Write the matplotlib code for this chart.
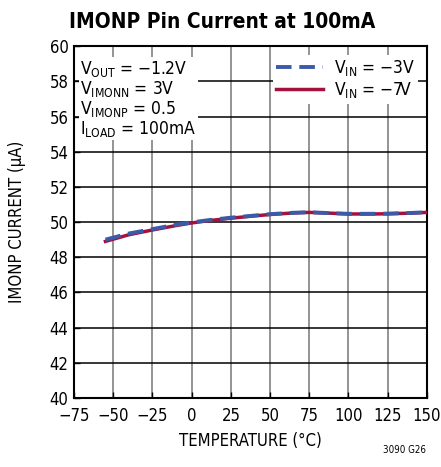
import matplotlib
matplotlib.use("Agg")
import matplotlib.pyplot as plt

plt.rcParams['font.family'] = ['DejaVu Sans']
plt.rcParams['font.stretch'] = 'condensed'
plt.rcParams['mathtext.fontset'] = 'custom'
plt.rcParams['mathtext.rm'] = 'DejaVu Sans:stretch=condensed'
plt.rcParams['mathtext.it'] = 'DejaVu Sans:stretch=condensed'
plt.rcParams['mathtext.default'] = 'regular'

# data
temp = [-55, -40, -25, -10, 0, 10, 25, 40, 50, 65, 75, 90, 100, 115, 125, 140, 150]
vin3 = [49.0, 49.35, 49.6, 49.85, 49.98, 50.1, 50.25, 50.37, 50.45, 50.53, 50.56, 50.5, 50.47, 50.47, 50.48, 50.52, 50.56]
vin7 = [48.9, 49.28, 49.55, 49.8, 49.95, 50.07, 50.22, 50.35, 50.43, 50.52, 50.55, 50.5, 50.46, 50.46, 50.47, 50.51, 50.55]

xticks = [-75, -50, -25, 0, 25, 50, 75, 100, 125, 150]
yticks = [40, 42, 44, 46, 48, 50, 52, 54, 56, 58, 60]

fig = plt.figure(figsize=(4.41, 4.67), dpi=100)
ax = fig.add_axes([0.168, 0.148, 0.8, 0.753])

ax.plot(temp, vin3, "--", c="#3b5ba8", linewidth=2.8, dashes=(4, 2), label="V$_{IN}$ = \u22123V", zorder=4)
ax.plot(temp, vin7, "-", c="#a3123c", linewidth=2.5, label="V$_{IN}$ = \u22127V", zorder=3)

ax.set_xlim(-75, 150)
ax.set_ylim(40, 60)
ax.set_xticks(xticks)
ax.set_yticks(yticks)
ax.set_xticklabels([str(t).replace("-", "\u2212") for t in xticks])
ax.tick_params(labelsize=12, direction="in", length=4, width=1)
ax.tick_params(axis="x", pad=6.5)
ax.tick_params(axis="y", pad=4)
ax.grid(True, axis="x", color="#777777", linewidth=1.1)
ax.grid(True, axis="y", color="black", linewidth=1.1)
for s in ax.spines.values():
    s.set_linewidth(1.5)

ax.set_title("IMONP Pin Current at 100mA", fontsize=15, fontweight="bold", pad=13, x=0.42)
ax.set_xlabel("TEMPERATURE (\u00b0C)", fontsize=12, labelpad=5)
ax.set_ylabel("IMONP CURRENT (\u00b5A)", fontsize=12, labelpad=17)

ax.text(-71, 59.3, "V$_{OUT}$ = \u22121.2V\nV$_{IMONN}$ = 3V\nV$_{IMONP}$ = 0.5\nI$_{LOAD}$ = 100mA",
        fontsize=12.5, va="top", ha="left", linespacing=1.0,
        bbox=dict(facecolor="white", edgecolor="none", pad=1), zorder=5)

leg = ax.legend(loc="upper right", fontsize=12.5, frameon=True, fancybox=False,
                edgecolor="none", framealpha=1, handlelength=2.7, borderaxespad=0.5,
                labelspacing=0.1, borderpad=0.2, handletextpad=0.6)
leg.set_zorder(6)

fig.text(0.965, 0.03, "3090 G26", fontsize=7, ha="right")

plt.savefig("out.png", dpi=100)
